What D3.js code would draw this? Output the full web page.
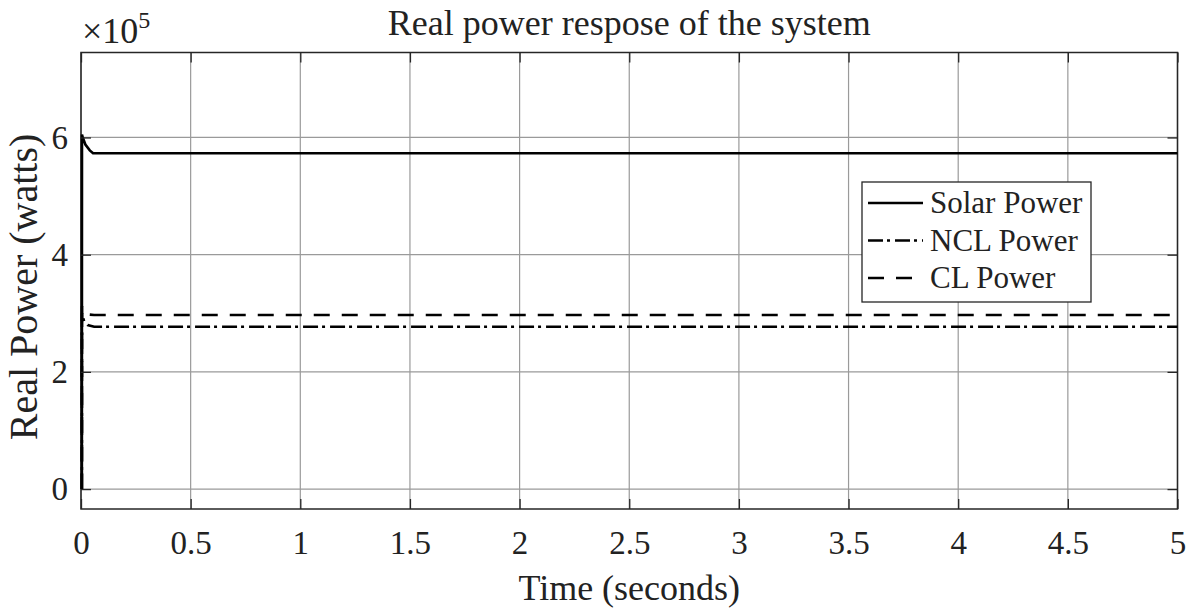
<!DOCTYPE html>
<html>
<head>
<meta charset="utf-8">
<script src="https://cdn.jsdelivr.net/npm/d3@7"></script>
<style>
  body { margin: 0; background: #fff; }
  text { font-family: "Liberation Serif", "Times New Roman", serif; fill: #222; }
</style>
</head>
<body>
<svg width="1193" height="610"></svg>
<script>
// Data (power in units of 1e5 W)
const timeSolar = [0.004, 0.0045, 0.008, 0.02, 0.04, 0.055, 5];
const solarPower = [0, 6.05, 6.0, 5.88, 5.78, 5.73, 5.73];

const timeNCL = [0.004, 0.0045, 0.008, 0.015, 0.03, 0.06, 5];
const nclPower = [0, 3.0, 2.95, 2.85, 2.8, 2.77, 2.77];

const timeCL = [0.004, 0.0045, 0.008, 0.015, 0.03, 0.06, 5];
const clPower = [0, 3.12, 3.05, 3.0, 2.98, 2.97, 2.97];

const xTicks = [0, 0.5, 1, 1.5, 2, 2.5, 3, 3.5, 4, 4.5, 5];
const yTicks = [0, 2, 4, 6];
const legendNames = ["Solar Power", "NCL Power", "CL Power"];

// Canvas and margins
const svg = d3.select("svg"),
    margin = { top: 52.5, right: 15.5, bottom: 101, left: 81 },
    width = +svg.attr("width") - margin.left - margin.right,
    height = +svg.attr("height") - margin.top - margin.bottom;

const g = svg.append("g").attr("transform", `translate(${margin.left},${margin.top})`);

const x = d3.scaleLinear().domain([0, 5]).range([0, width]);
const y = d3.scaleLinear().domain([-0.34, 7.45]).range([height, 0]);

// Grid lines
g.append("g")
  .attr("class", "grid")
  .selectAll("line.gx")
  .data(xTicks)
  .join("line")
  .attr("x1", d => x(d)).attr("x2", d => x(d))
  .attr("y1", 0).attr("y2", height)
  .attr("stroke", "#9a9a9a").attr("stroke-width", 1.2);

g.append("g")
  .attr("class", "grid")
  .selectAll("line.gy")
  .data(yTicks)
  .join("line")
  .attr("x1", 0).attr("x2", width)
  .attr("y1", d => y(d)).attr("y2", d => y(d))
  .attr("stroke", "#9a9a9a").attr("stroke-width", 1.2);

// Box
g.append("rect")
  .attr("width", width).attr("height", height)
  .attr("fill", "none")
  .attr("stroke", "#262626")
  .attr("stroke-width", 1.5);

// Series
const series = [
  { t: timeSolar, v: solarPower, dash: null },
  { t: timeNCL, v: nclPower, dash: "15,4,3,5" },
  { t: timeCL, v: clPower, dash: "16,12" }
];

const lineGenerator = d3.line()
    .x(d => x(d[0]))
    .y(d => y(d[1]));

series.forEach(s => {
  g.append("path")
    .datum(s.t.map((t, i) => [t, s.v[i]]))
    .attr("fill", "none")
    .attr("stroke", "#000")
    .attr("stroke-width", 2.6)
    .attr("stroke-dasharray", s.dash)
    .attr("d", lineGenerator);
});

// Axes (ticks point inward, on all four sides)
const tickLen = 10;
const styleAxis = sel => {
  sel.select(".domain").remove();
  sel.selectAll(".tick line").attr("stroke", "#262626").attr("stroke-width", 1.3);
  sel.selectAll(".tick text").style("font-size", "33px").attr("fill", "#222");
};

g.append("g")
  .attr("transform", `translate(0,${height})`)
  .call(d3.axisBottom(x).tickValues(xTicks).tickFormat(d3.format("")).tickSizeInner(-tickLen).tickPadding(22))
  .call(styleAxis);

g.append("g")
  .call(d3.axisTop(x).tickValues(xTicks).tickFormat("").tickSizeInner(-tickLen))
  .call(styleAxis);

g.append("g")
  .call(d3.axisLeft(y).tickValues(yTicks).tickSizeInner(-tickLen).tickPadding(13))
  .call(styleAxis);

g.append("g")
  .attr("transform", `translate(${width},0)`)
  .call(d3.axisRight(y).tickValues(yTicks).tickFormat("").tickSizeInner(-tickLen))
  .call(styleAxis);

// Exponent label
const expo = svg.append("text")
  .attr("x", 82).attr("y", 43)
  .style("font-size", "36px");
expo.append("tspan").text("×10");
expo.append("tspan").attr("dy", -15).style("font-size", "24px").text("5");

// Title and axis labels
svg.append("text")
  .attr("x", margin.left + width / 2).attr("y", 35)
  .attr("text-anchor", "middle")
  .style("font-size", "36px")
  .attr("fill", "#111")
  .text("Real power respose of the system");

svg.append("text")
  .attr("x", margin.left + width / 2).attr("y", 600)
  .attr("text-anchor", "middle")
  .style("font-size", "36px")
  .text("Time (seconds)");

svg.append("text")
  .attr("transform", `translate(37,${287}) rotate(-90)`)
  .attr("text-anchor", "middle")
  .style("font-size", "40px")
  .text("Real Power (watts)");

// Legend
const legend = svg.append("g").attr("transform", "translate(862,182)");
legend.append("rect")
  .attr("width", 229).attr("height", 120)
  .attr("fill", "#fff")
  .attr("stroke", "#262626")
  .attr("stroke-width", 1.3);

legendNames.forEach((name, i) => {
  const cy = 21 + i * 37.5;
  legend.append("line")
    .attr("x1", 6).attr("x2", 61)
    .attr("y1", cy).attr("y2", cy)
    .attr("stroke", "#000")
    .attr("stroke-width", 2.6)
    .attr("stroke-dasharray", series[i].dash);
  legend.append("text")
    .attr("x", 68).attr("y", cy + 10)
    .style("font-size", "31px")
    .text(name);
});
</script>
</body>
</html>
